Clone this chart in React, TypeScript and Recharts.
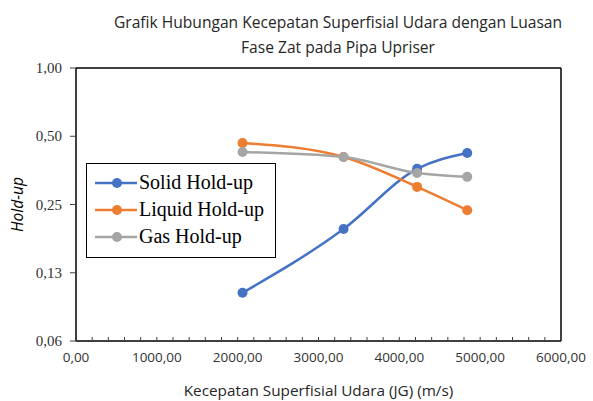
import React from 'react';
import { LineChart, Line, XAxis, YAxis, ReferenceLine, Label } from 'recharts';

const xValues = [2060, 3310, 4220, 4840];
const solidHoldup = [0.102, 0.195, 0.359, 0.422];
const liquidHoldup = [0.467, 0.405, 0.299, 0.236];
const gasHoldup = [0.426, 0.405, 0.344, 0.331];

const yTicks = [0.0625, 0.125, 0.25, 0.5, 1];
const yTickLabels = ['0,06', '0,13', '0,25', '0,50', '1,00'];

const xMinorTicks = [0, 200, 400, 600, 800, 1000, 1200, 1400, 1600, 1800, 2000, 2200, 2400, 2600, 2800, 3000, 3200, 3400, 3600, 3800, 4000, 4200, 4400, 4600, 4800, 5000, 5200, 5400, 5600, 5800, 6000];
const xMajorTicks = [0, 1000, 2000, 3000, 4000, 5000, 6000];
const xTickLabels = ['0,00', '1000,00', '2000,00', '3000,00', '4000,00', '5000,00', '6000,00'];

const seriesNames = ['Solid Hold-up', 'Liquid Hold-up', 'Gas Hold-up'];
const seriesColors = ['#4472C4', '#ED7D31', '#A5A5A5'];

const rows = xValues.map((x, i) => ({
  x,
  solid: solidHoldup[i],
  liquid: liquidHoldup[i],
  gas: gasHoldup[i],
}));

const XTick = (props: any) => {
  const { x, y, payload } = props;
  const idx = xMajorTicks.indexOf(payload.value);
  return (
    <g>
      <line x1={x} x2={x} y1={y} y2={y - 4} stroke="#404040" strokeWidth={1} />
      {idx >= 0 && (
        <text x={x} y={y + 21} textAnchor="middle" fontFamily="'Open Sans', sans-serif" fontSize={13.5} fill="#333">
          {xTickLabels[idx]}
        </text>
      )}
    </g>
  );
};

const YTick = (props: any) => {
  const { x, y, payload } = props;
  const idx = yTicks.indexOf(payload.value);
  return (
    <text x={x} y={y + 5} textAnchor="end" fontFamily="'Liberation Serif', serif" fontSize={15} fill="#333">
      {idx >= 0 ? yTickLabels[idx] : ''}
    </text>
  );
};

const LegendBox = () => (
  <div
    style={{
      position: 'absolute',
      left: 86,
      top: 163,
      border: '1.5px solid #000',
      background: '#fff',
      width: 190,
      height: 95,
      boxSizing: 'border-box',
      paddingTop: 5,
    }}
  >
    {seriesNames.map((n, i) => (
      <div key={n} style={{ display: 'flex', alignItems: 'center', height: 27 }}>
        <svg width={52} height={14} style={{ flex: 'none' }}>
          <line x1={8} x2={50} y1={7} y2={7} stroke={seriesColors[i]} strokeWidth={2.5} />
          <circle cx={30} cy={7} r={5} fill={seriesColors[i]} />
        </svg>
        <span style={{ fontFamily: "'Liberation Serif', serif", fontSize: 20, color: '#000', whiteSpace: 'nowrap', lineHeight: '27px' }}>
          {n}
        </span>
      </div>
    ))}
  </div>
);

export default function App() {
  return (
    <div style={{ position: 'absolute', left: 0, top: 0, width: 593, height: 401, background: '#fff' }}>
      <div
        style={{
          position: 'absolute',
          left: 88,
          width: 500,
          top: 10,
          textAlign: 'center',
          fontFamily: "'Open Sans', sans-serif",
          fontSize: 15.6,
          lineHeight: '25px',
          color: '#262626',
        }}
      >
        Grafik Hubungan Kecepatan Superfisial Udara dengan Luasan
        <br />
        Fase Zat pada Pipa Upriser
      </div>
      <LineChart width={593} height={401} data={rows} margin={{ top: 68, right: 32, bottom: 0, left: 0 }}>
        <XAxis
          type="number"
          dataKey="x"
          domain={[0, 6000]}
          ticks={xMinorTicks}
          interval={0}
          height={60}
          tickSize={0}
          tickMargin={0}
          tickLine={false}
          tick={<XTick />}
          axisLine={{ stroke: '#000', strokeWidth: 1.5 }}
        >
          <Label
            content={(p: any) => {
              const vb = p.viewBox;
              return (
                <text x={vb.x + vb.width / 2} y={vb.y + 55} textAnchor="middle" fontFamily="'Open Sans', sans-serif" fontSize={15.3} fill="#262626">
                  Kecepatan Superfisial Udara (JG) (m/s)
                </text>
              );
            }}
          />
        </XAxis>
        <YAxis
          type="number"
          scale="log"
          domain={[0.0625, 1]}
          ticks={yTicks}
          interval={0}
          allowDataOverflow
          width={76}
          tickSize={6}
          tickMargin={8}
          tickLine={{ stroke: '#404040' }}
          tick={<YTick />}
          axisLine={{ stroke: '#000', strokeWidth: 1.5 }}
        >
          <Label
            content={(p: any) => {
              const vb = p.viewBox;
              const cy = vb.y + vb.height / 2;
              return (
                <text x={23} y={cy} transform={`rotate(-90, 23, ${cy})`} textAnchor="middle" fontFamily="'Open Sans', sans-serif" fontStyle="italic" fontSize={15.5} fill="#000">
                  Hold-up
                </text>
              );
            }}
          />
        </YAxis>
        <ReferenceLine y={1} stroke="#000" strokeWidth={1.5} />
        <ReferenceLine x={6000} stroke="#000" strokeWidth={1.5} />
        <Line type="monotone" dataKey="solid" stroke={seriesColors[0]} strokeWidth={2.5} dot={{ r: 5, fill: seriesColors[0], stroke: seriesColors[0], strokeWidth: 0 }} isAnimationActive={false} />
        <Line type="monotone" dataKey="liquid" stroke={seriesColors[1]} strokeWidth={2.5} dot={{ r: 5, fill: seriesColors[1], stroke: seriesColors[1], strokeWidth: 0 }} isAnimationActive={false} />
        <Line type="monotone" dataKey="gas" stroke={seriesColors[2]} strokeWidth={2.5} dot={{ r: 5, fill: seriesColors[2], stroke: seriesColors[2], strokeWidth: 0 }} isAnimationActive={false} />
      </LineChart>
      <LegendBox />
    </div>
  );
}
